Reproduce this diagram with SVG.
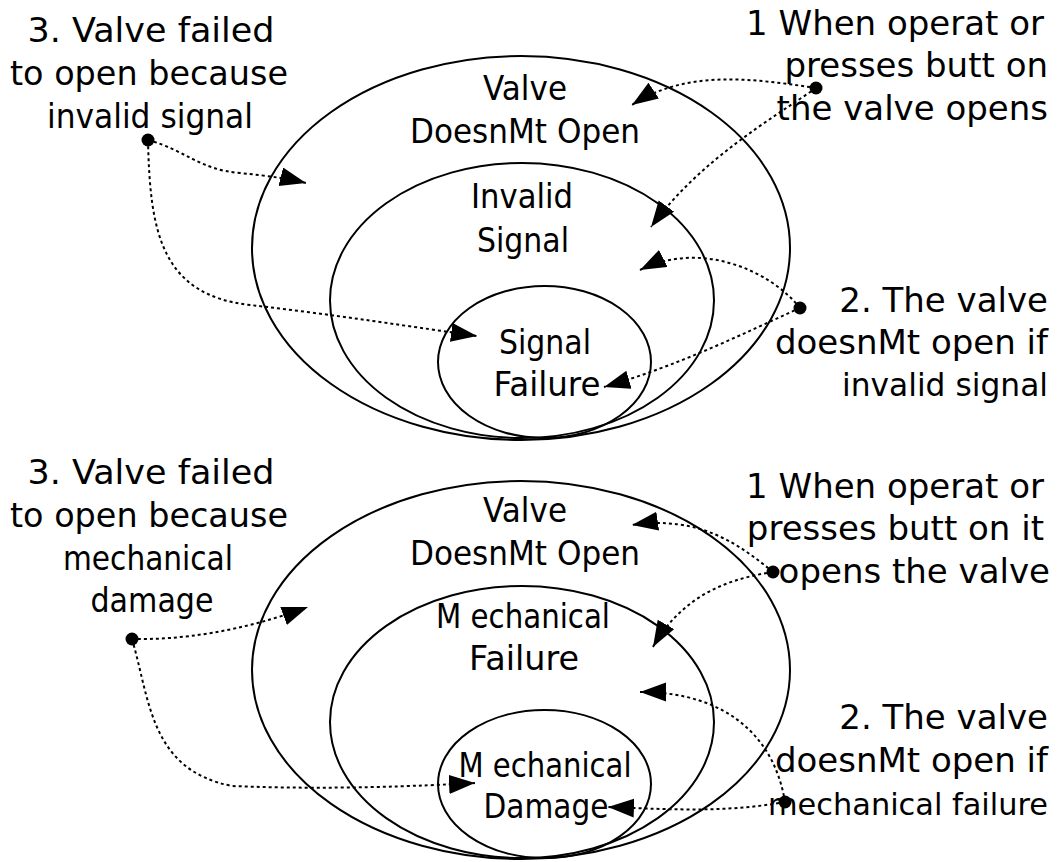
<svg xmlns="http://www.w3.org/2000/svg" width="1059" height="862" viewBox="0 0 1059 862">
  <defs>
    <marker id="arrow" markerUnits="userSpaceOnUse" markerWidth="28" markerHeight="20" refX="26" refY="9.5" orient="auto">
      <path d="M0,0 L26,9.5 L0,19 Z" fill="#000"/>
    </marker>
    <style>
      .ring { fill: none; stroke: #000; stroke-width: 2; }
      .lbl { font-family: "DejaVu Sans", "Liberation Sans", sans-serif; font-size: 34px; fill: #000; }
      .mid { text-anchor: middle; }
      .end { text-anchor: end; }
      .link { fill: none; stroke: #000; stroke-width: 2; stroke-dasharray: 3 3; marker-end: url(#arrow); }
      .dot { fill: #000; }
    </style>
  </defs>
  <rect width="1059" height="862" fill="#fff"/>

  <!-- Upper diagram: nested sets -->
  <g id="top-valve-doesnt-open">
    <ellipse class="ring" cx="521" cy="248" rx="269" ry="192"/>
    <text class="lbl mid" x="525" y="100" textLength="84" lengthAdjust="spacingAndGlyphs">Valve</text>
    <text class="lbl mid" x="525" y="143" textLength="230" lengthAdjust="spacingAndGlyphs">DoesnMt Open</text>
  </g>
  <g id="top-invalid-signal">
    <ellipse class="ring" cx="522" cy="300.5" rx="192" ry="137.5"/>
    <text class="lbl mid" x="522" y="208" textLength="102" lengthAdjust="spacingAndGlyphs">Invalid</text>
    <text class="lbl mid" x="523" y="252" textLength="92" lengthAdjust="spacingAndGlyphs">Signal</text>
  </g>
  <g id="top-signal-failure">
    <ellipse class="ring" cx="544.5" cy="362" rx="106.5" ry="76"/>
    <text class="lbl mid" x="545" y="354" textLength="92" lengthAdjust="spacingAndGlyphs">Signal</text>
    <text class="lbl mid" x="547" y="396" textLength="107" lengthAdjust="spacingAndGlyphs">Failure</text>
  </g>

  <g id="top-note-3">
    <text class="lbl mid" x="151" y="42" textLength="247" lengthAdjust="spacingAndGlyphs">3. Valve failed</text>
    <text class="lbl mid" x="149" y="85" textLength="278" lengthAdjust="spacingAndGlyphs">to open because</text>
    <text class="lbl mid" x="150" y="128" textLength="206" lengthAdjust="spacingAndGlyphs">invalid signal</text>
    <circle class="dot" cx="148" cy="140" r="6.5"/>
  </g>
  <g id="top-note-1">
    <text class="lbl end" x="1044" y="35">1 When operat or</text>
    <text class="lbl end" x="1048" y="77">presses butt on</text>
    <text class="lbl end" x="1048" y="120">the valve opens</text>
    <circle class="dot" cx="816" cy="88" r="6.5"/>
  </g>
  <g id="top-note-2">
    <text class="lbl end" x="1048" y="312">2. The valve</text>
    <text class="lbl end" x="1048" y="354">doesnMt open if</text>
    <text class="lbl" x="842" y="396" style="font-size:32px" textLength="206" lengthAdjust="spacingAndGlyphs">invalid signal</text>
    <circle class="dot" cx="800" cy="308" r="6.5"/>
  </g>

  <!-- Lower diagram: nested sets -->
  <g id="bottom-valve-doesnt-open">
    <ellipse class="ring" cx="521" cy="670" rx="269" ry="189"/>
    <text class="lbl mid" x="525" y="522" textLength="84" lengthAdjust="spacingAndGlyphs">Valve</text>
    <text class="lbl mid" x="525" y="565" textLength="230" lengthAdjust="spacingAndGlyphs">DoesnMt Open</text>
  </g>
  <g id="bottom-mechanical-failure">
    <ellipse class="ring" cx="522" cy="722" rx="192" ry="136"/>
    <text class="lbl mid" x="523" y="628" textLength="174" lengthAdjust="spacingAndGlyphs">M echanical</text>
    <text class="lbl mid" x="524" y="670" textLength="110" lengthAdjust="spacingAndGlyphs">Failure</text>
  </g>
  <g id="bottom-mechanical-damage">
    <ellipse class="ring" cx="544.5" cy="784" rx="106.5" ry="74"/>
    <text class="lbl mid" x="545" y="777" textLength="173" lengthAdjust="spacingAndGlyphs">M echanical</text>
    <text class="lbl mid" x="546" y="818" textLength="125" lengthAdjust="spacingAndGlyphs">Damage</text>
  </g>

  <g id="bottom-note-3">
    <text class="lbl mid" x="151" y="484" textLength="247" lengthAdjust="spacingAndGlyphs">3. Valve failed</text>
    <text class="lbl mid" x="149" y="527" textLength="278" lengthAdjust="spacingAndGlyphs">to open because</text>
    <text class="lbl mid" x="148" y="570" textLength="170" lengthAdjust="spacingAndGlyphs">mechanical</text>
    <text class="lbl mid" x="152" y="612" textLength="123" lengthAdjust="spacingAndGlyphs">damage</text>
    <circle class="dot" cx="132" cy="639" r="6.5"/>
  </g>
  <g id="bottom-note-1">
    <text class="lbl end" x="1044" y="498">1 When operat or</text>
    <text class="lbl end" x="1044" y="540">presses butt on it</text>
    <text class="lbl end" x="1050" y="583">opens the valve</text>
    <circle class="dot" cx="773" cy="572" r="6.5"/>
  </g>
  <g id="bottom-note-2">
    <text class="lbl end" x="1048" y="729">2. The valve</text>
    <text class="lbl end" x="1048" y="772">doesnMt open if</text>
    <text class="lbl" x="768" y="815" style="font-size:31px" textLength="280" lengthAdjust="spacingAndGlyphs">mechanical failure</text>
    <circle class="dot" cx="785" cy="802" r="6.5"/>
  </g>

  <!-- Dotted connectors -->
  <g id="connectors">
    <path class="link" d="M148,140 C185,150 200,170 240,173 C270,176 290,179 306,183"/>
    <path class="link" d="M148,140 C150,230 160,295 250,305 C330,314 420,328 477,336"/>
    <path class="link" d="M816,88 C750,78 685,70 632,105"/>
    <path class="link" d="M816,88 C770,120 700,160 651,227"/>
    <path class="link" d="M800,308 C770,270 700,240 640,270"/>
    <path class="link" d="M800,308 C740,335 680,365 604,387"/>

    <path class="link" d="M132,639 C180,640 240,632 308,607"/>
    <path class="link" d="M132,639 C150,700 150,770 232,786 C330,790 420,786 475,783"/>
    <path class="link" d="M773,572 C740,545 700,515 632,525"/>
    <path class="link" d="M773,572 C720,580 680,600 653,647"/>
    <path class="link" d="M785,802 C775,740 730,692 640,692"/>
    <path class="link" d="M785,802 C730,812 680,810 608,807"/>
  </g>
</svg>
